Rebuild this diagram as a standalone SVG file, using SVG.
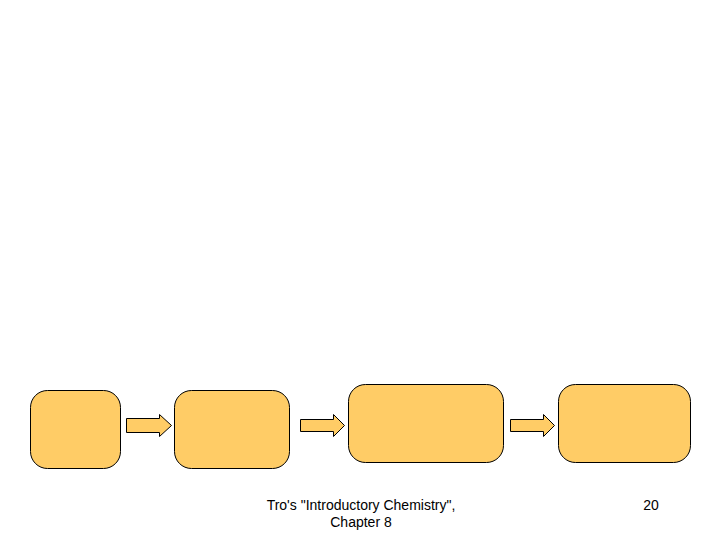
<svg xmlns="http://www.w3.org/2000/svg" width="720" height="540" viewBox="0 0 720 540">
<style>
.box{fill:#FFCC66;stroke:#000;stroke-width:1}
.arr{fill:#FFCC66;stroke:#000;stroke-width:1}
.t{font-family:"Liberation Sans",Arial,sans-serif;font-size:14px;fill:#000}
</style>
<rect width="720" height="540" fill="#fff"/>
<g id="node1"><rect class="box" x="30.5" y="390.5" width="90" height="78" rx="17"/></g>
<g id="node2"><rect class="box" x="174.5" y="390.5" width="115" height="78" rx="17"/></g>
<g id="node3"><rect class="box" x="348.5" y="384.5" width="155" height="78" rx="17"/></g>
<g id="node4"><rect class="box" x="558.5" y="384.5" width="132" height="78" rx="17"/></g>
<g id="connectors">
<polygon class="arr" points="126.5,418.5 159.5,418.5 159.5,414.5 171.5,425.5 159.5,436.5 159.5,432.5 126.5,432.5"/>
<polygon class="arr" points="300.5,419.5 333.5,419.5 333.5,414.5 344.5,425.5 333.5,436.5 333.5,431.5 300.5,431.5"/>
<polygon class="arr" points="510.5,419.5 543.5,419.5 543.5,414.5 554.5,425.5 543.5,436.5 543.5,431.5 510.5,431.5"/>
</g>
<text class="t" x="361" y="510" text-anchor="middle">Tro's "Introductory Chemistry",</text>
<text class="t" x="361" y="527" text-anchor="middle">Chapter 8</text>
<text class="t" x="651" y="510" text-anchor="middle">20</text>
</svg>
